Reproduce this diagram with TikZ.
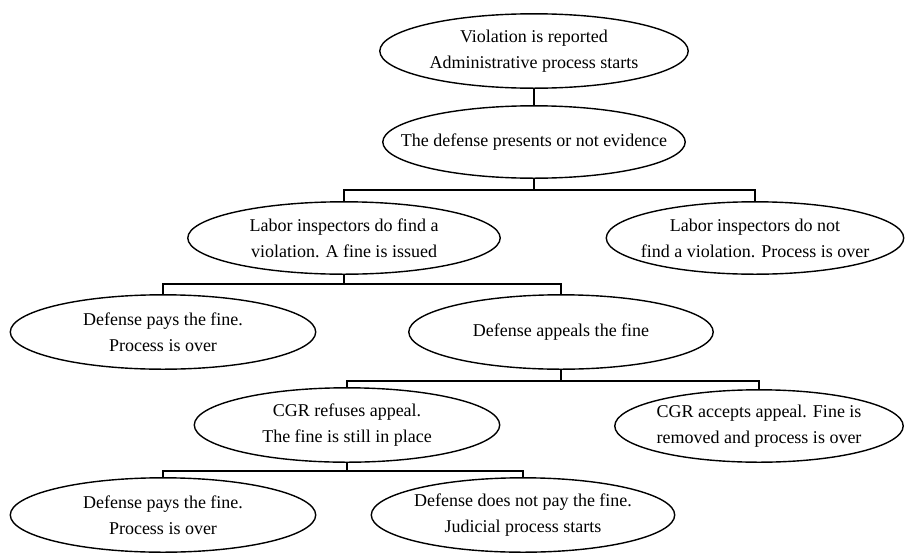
\documentclass[tikz,border=0pt]{standalone}
\usepackage{fontspec}
\setmainfont{Liberation Serif}
\usetikzlibrary{calc}

\tikzset{
  stage/.style={rectangle, inner sep=0pt, minimum width=305pt, minimum height=74pt, align=center},
  outline/.style={line width=1.4pt},
  link/.style={line width=1.6pt}
}

\begin{document}
\begin{tikzpicture}[x=1pt, y=1pt, font=\fontsize{18}{26}\selectfont]
      \useasboundingbox (0, 0) rectangle (905, -552);

      \node[stage, minimum width=308pt] (viol) at (534, -51) {Violation is reported\\Administrative process starts};
      \node[stage, minimum width=302pt, minimum height=72pt] (evid) at (534, -142) {The defense presents or not evidence};
      \node[stage, minimum width=312pt, minimum height=72pt] (labfind) at (344, -238) {Labor inspectors do find a\\violation. A fine is issued};
      \node[stage, minimum width=297pt, minimum height=72pt] (labnot) at (755, -238) {Labor inspectors do not\\find a violation. Process is over};
      \node[stage] (pay) at (163, -332) {Defense pays the fine.\\Process is over};
      \node[stage, minimum width=304pt] (appeal) at (561, -332) {Defense appeals the fine};
      \node[stage] (refuse) at (347, -425) {CGR refuses appeal.\\The fine is still in place};
      \node[stage, minimum width=288pt, minimum height=72pt] (accept) at (759, -426) {CGR accepts appeal. Fine is\\removed and process is over};
      \node[stage] (paytwo) at (163, -515) {Defense pays the fine.\\Process is over};
      \node[stage, minimum width=303pt] (nopay) at (523, -515) {Defense does not pay the fine.\\Judicial process starts};

      % outlines
      \foreach \s in {viol, evid, labfind, labnot, pay, appeal, refuse, accept, paytwo, nopay}
        \draw[outline] let \p1 = ($(\s.north east)-(\s.center)$) in
          (\s.center) ellipse [x radius=\x1, y radius=\y1];

      \coordinate (b1) at (534, -190);
      \coordinate (b2) at (344, -284);
      \coordinate (b3) at (561, -381);
      \coordinate (b4) at (347, -471);

      \draw[link] (viol.south) -- (evid.north);
      \draw[link] (evid.south) -- (b1) -| (labfind.north);
      \draw[link] (b1) -| (labnot.north);
      \draw[link] (labfind.south) -- (b2) -| (pay.north);
      \draw[link] (b2) -| (appeal.north);
      \draw[link] (appeal.south) -- (b3) -| (refuse.north);
      \draw[link] (b3) -| (accept.north);
      \draw[link] (refuse.south) -- (b4) -| (paytwo.north);
      \draw[link] (b4) -| (nopay.north);
    \end{tikzpicture}
\end{document}
